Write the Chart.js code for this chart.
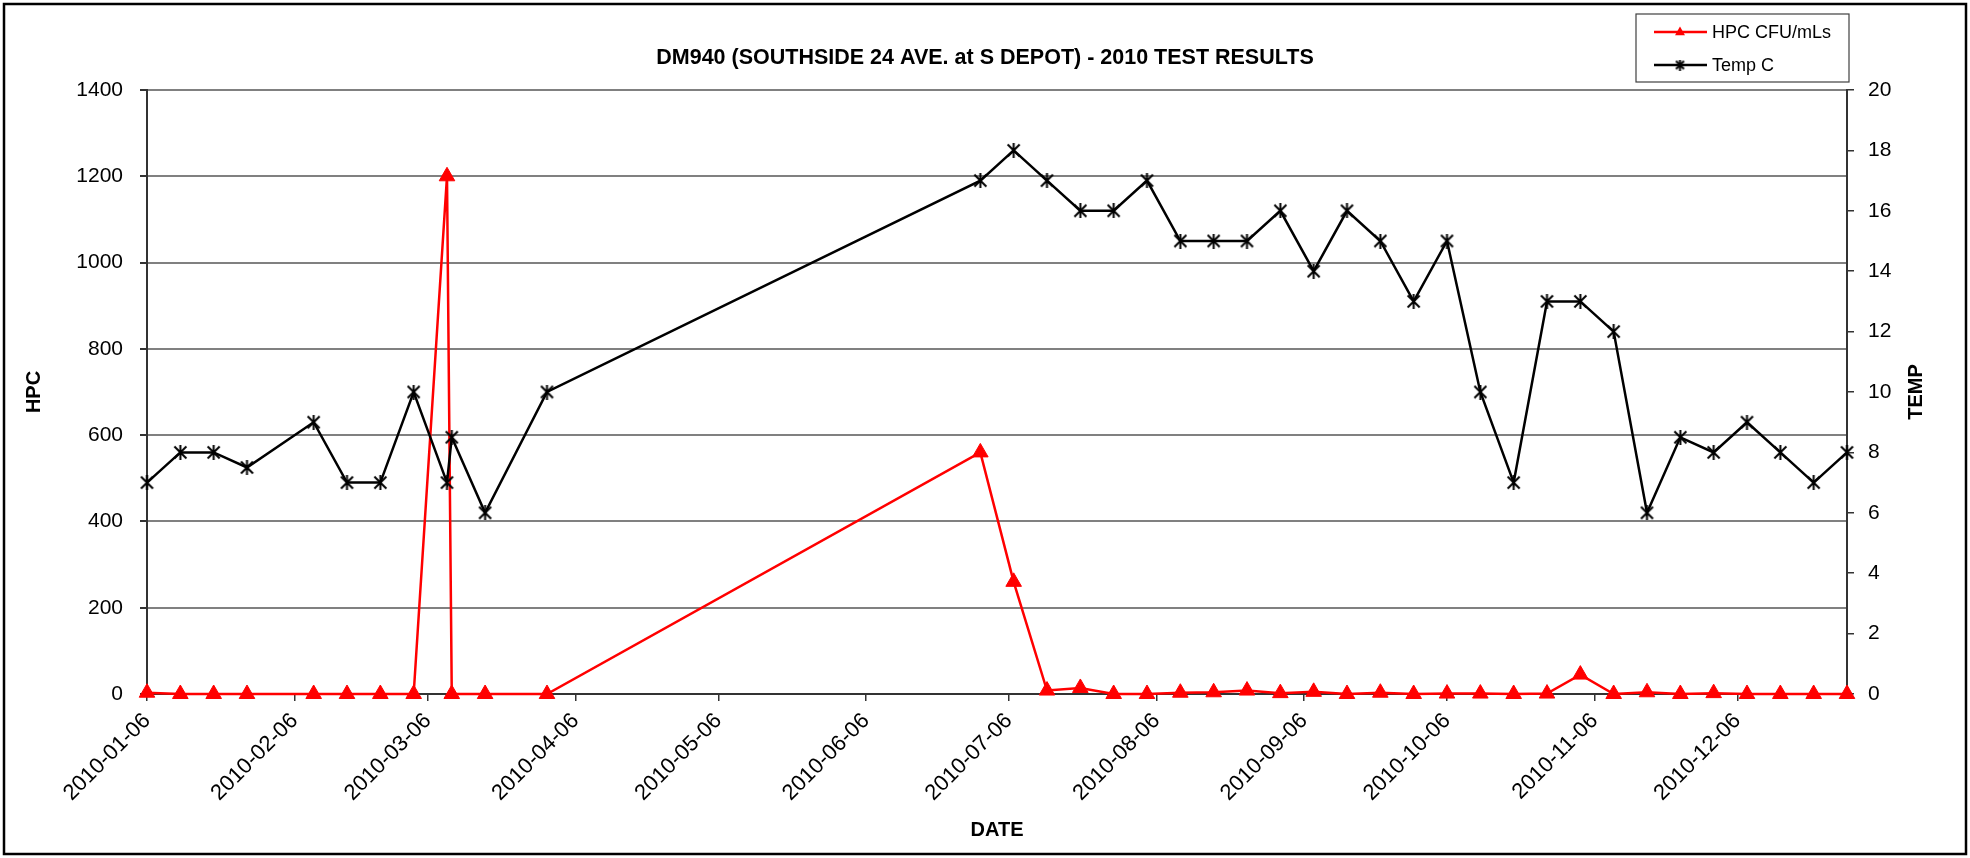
<!DOCTYPE html>
<html>
<head>
<meta charset="utf-8">
<title>DM940 - 2010 Test Results</title>
<script src="https://cdn.jsdelivr.net/npm/chart.js@4.4.1/dist/chart.umd.min.js"></script>
<style>
    html, body { margin: 0; padding: 0; background: #ffffff; }
    #chartBox { width: 1970px; height: 858px; }
</style>
</head>
<body>
<div id="chartBox"><canvas id="hpcChart" width="1970" height="858"></canvas></div>
<script>
// Sample dates (Excel date axis)
const sampleDates = [
    '2010-01-06', '2010-01-13', '2010-01-20', '2010-01-27', '2010-02-10', '2010-02-17',
    '2010-02-24', '2010-03-03', '2010-03-10', '2010-03-11', '2010-03-18', '2010-03-31',
    '2010-06-30', '2010-07-07', '2010-07-14', '2010-07-21', '2010-07-28', '2010-08-04',
    '2010-08-11', '2010-08-18', '2010-08-25', '2010-09-01', '2010-09-08', '2010-09-15',
    '2010-09-22', '2010-09-29', '2010-10-06', '2010-10-13', '2010-10-20', '2010-10-27',
    '2010-11-03', '2010-11-10', '2010-11-17', '2010-11-24', '2010-12-01', '2010-12-08',
    '2010-12-15', '2010-12-22', '2010-12-29'
];

// HPC CFU/mLs (left axis)
const hpcValues = [
    3, 0, 0, 0, 0, 0, 0, 0, 1200, 0, 0, 0,
    560, 260, 8, 14, 0, 0, 3, 4, 8, 2, 5, 0, 3, 0, 1, 1, 0, 1,
    45, 0, 4, 0, 2, 0, 0, 0, 0
];

// Temp C (right axis)
const tempValues = [
    7, 8, 8, 7.5, 9, 7, 7, 10, 7, 8.5, 6, 10,
    17, 18, 17, 16, 16, 17, 15, 15, 15, 16, 14, 16, 15, 13, 15, 10, 7, 13,
    13, 12, 6, 8.5, 8, 9, 8, 7, 8
];

// Month tick labels on the date axis
const monthTicks = [
    '2010-01-06', '2010-02-06', '2010-03-06', '2010-04-06', '2010-05-06', '2010-06-06',
    '2010-07-06', '2010-08-06', '2010-09-06', '2010-10-06', '2010-11-06', '2010-12-06'
];

const hpcTicks = [0, 200, 400, 600, 800, 1000, 1200, 1400];
const tempTicks = [0, 2, 4, 6, 8, 10, 12, 14, 16, 18, 20];

const FONT = "'Liberation Sans', Arial, sans-serif";

// Days since the first sample, so the x axis behaves like a date axis
function toDay(str) {
    const p = str.split('-').map(Number);
    const base = sampleDates[0].split('-').map(Number);
    return (Date.UTC(p[0], p[1] - 1, p[2]) - Date.UTC(base[0], base[1] - 1, base[2])) / 86400000;
}

function dayLabel(day) {
    const base = sampleDates[0].split('-').map(Number);
    const d = new Date(Date.UTC(base[0], base[1] - 1, base[2]) + day * 86400000);
    return d.toISOString().slice(0, 10);
}

// Excel style "star" marker: X with a vertical bar
function makeStarMarker(size, width) {
    const c = document.createElement('canvas');
    c.width = size;
    c.height = size;
    const g = c.getContext('2d');
    const m = 1.5;
    g.strokeStyle = '#000000';
    g.lineWidth = width;
    g.beginPath();
    g.moveTo(m, m); g.lineTo(size - m, size - m);
    g.moveTo(size - m, m); g.lineTo(m, size - m);
    g.moveTo(size / 2, 0); g.lineTo(size / 2, size);
    g.stroke();
    return c;
}

const starMarker = makeStarMarker(15, 2);
const starLegend = makeStarMarker(11, 2);

// Frame, title, right axis title and legend box
const decorPlugin = {
    id: 'decor',
    afterDraw(chart) {
        const ctx = chart.ctx;
        const area = chart.chartArea;
        ctx.save();

        // outer frame
        ctx.strokeStyle = '#000000';
        ctx.lineWidth = 2.5;
        ctx.strokeRect(4, 4, 1962, 850);

        // title
        ctx.fillStyle = '#000000';
        ctx.font = 'bold 21.5px ' + FONT;
        ctx.textAlign = 'center';
        ctx.textBaseline = 'middle';
        ctx.fillText('DM940 (SOUTHSIDE 24 AVE. at S DEPOT) - 2010 TEST RESULTS', 985, 58);

        // right axis title, reading bottom to top like the left one
        ctx.save();
        ctx.translate(1916, (area.top + area.bottom) / 2);
        ctx.rotate(-Math.PI / 2);
        ctx.font = 'bold 20px ' + FONT;
        ctx.fillText('TEMP', 0, 0);
        ctx.restore();

        // legend
        const lx = 1636, ly = 14, lw = 213, lh = 68;
        ctx.fillStyle = '#ffffff';
        ctx.fillRect(lx, ly, lw, lh);
        ctx.strokeStyle = '#404040';
        ctx.lineWidth = 1.2;
        ctx.strokeRect(lx, ly, lw, lh);

        ctx.font = '18px ' + FONT;
        ctx.textAlign = 'left';
        chart.data.datasets.forEach((ds, i) => {
            const y = ly + 18 + i * 33;
            ctx.strokeStyle = ds.borderColor;
            ctx.lineWidth = 2.5;
            ctx.beginPath();
            ctx.moveTo(lx + 18, y);
            ctx.lineTo(lx + 71, y);
            ctx.stroke();
            if (ds.pointStyle === 'triangle') {
                const r = 5.5;
                ctx.fillStyle = ds.pointBackgroundColor;
                ctx.beginPath();
                ctx.moveTo(lx + 44, y - r);
                ctx.lineTo(lx + 44 + r * 0.9, y + r * 0.6);
                ctx.lineTo(lx + 44 - r * 0.9, y + r * 0.6);
                ctx.closePath();
                ctx.fill();
            } else {
                ctx.drawImage(starLegend, lx + 44 - 5.5, y - 5.5);
            }
            ctx.fillStyle = '#000000';
            ctx.fillText(ds.label, lx + 76, y + 1);
        });

        ctx.restore();
    }
};

const ctx = document.getElementById('hpcChart').getContext('2d');

const chart = new Chart(ctx, {
    type: 'line',
    data: {
        datasets: [
            {
                label: 'HPC CFU/mLs',
                data: sampleDates.map((d, i) => ({ x: toDay(d), y: hpcValues[i] })),
                yAxisID: 'y',
                borderColor: '#ff0000',
                backgroundColor: '#ff0000',
                borderWidth: 2.5,
                tension: 0,
                clip: false,
                pointStyle: 'triangle',
                pointRadius: 9,
                pointBackgroundColor: '#ff0000',
                pointBorderColor: '#ff0000',
                pointBorderWidth: 1,
                order: 1
            },
            {
                label: 'Temp C',
                data: sampleDates.map((d, i) => ({ x: toDay(d), y: tempValues[i] })),
                yAxisID: 'y2',
                borderColor: '#000000',
                backgroundColor: '#000000',
                borderWidth: 2.5,
                tension: 0,
                clip: false,
                pointStyle: starMarker,
                pointRadius: 7,
                order: 0
            }
        ]
    },
    options: {
        responsive: false,
        animation: false,
        layout: {
            padding: { top: 90, left: 0, right: 0, bottom: 0 }
        },
        plugins: {
            legend: { display: false },
            title: { display: false },
            tooltip: { enabled: false }
        },
        scales: {
            x: {
                type: 'linear',
                min: toDay(sampleDates[0]),
                max: toDay(sampleDates[sampleDates.length - 1]),
                afterBuildTicks: scale => {
                    scale.ticks = monthTicks.map(t => ({ value: toDay(t) }));
                },
                afterFit: scale => { scale.height = 164; },
                ticks: {
                    autoSkip: false,
                    minRotation: 45,
                    maxRotation: 45,
                    padding: 7,
                    color: '#000000',
                    font: { family: FONT, size: 22 },
                    callback: value => dayLabel(value)
                },
                grid: {
                    drawOnChartArea: false,
                    tickLength: 7,
                    tickColor: '#333333',
                    lineWidth: 1.5
                },
                border: { color: '#333333', width: 2 },
                title: {
                    display: true,
                    text: 'DATE',
                    color: '#000000',
                    font: { family: FONT, size: 20, weight: 'bold' },
                    padding: { top: 0, bottom: 16 }
                }
            },
            y: {
                position: 'left',
                min: 0,
                max: 1400,
                afterBuildTicks: scale => {
                    scale.ticks = hpcTicks.map(v => ({ value: v }));
                },
                afterFit: scale => { scale.width = 147; },
                ticks: {
                    padding: 17,
                    color: '#000000',
                    font: { family: FONT, size: 21 },
                    callback: value => String(value)
                },
                grid: {
                    color: '#808080',
                    lineWidth: 2,
                    tickLength: 7,
                    tickColor: '#333333'
                },
                border: { color: '#333333', width: 2 },
                title: {
                    display: true,
                    text: 'HPC',
                    color: '#000000',
                    font: { family: FONT, size: 20, weight: 'bold' },
                    padding: { top: 22, bottom: 0 }
                }
            },
            y2: {
                position: 'right',
                min: 0,
                max: 20,
                afterBuildTicks: scale => {
                    scale.ticks = tempTicks.map(v => ({ value: v }));
                },
                afterFit: scale => { scale.width = 123; },
                ticks: {
                    padding: 14,
                    color: '#000000',
                    font: { family: FONT, size: 21 },
                    callback: value => String(value)
                },
                grid: {
                    drawOnChartArea: false,
                    tickLength: 7,
                    tickColor: '#333333',
                    lineWidth: 1.5
                },
                border: { color: '#333333', width: 2 },
                title: { display: false }
            }
        }
    },
    plugins: [decorPlugin]
});
</script>
</body>
</html>
